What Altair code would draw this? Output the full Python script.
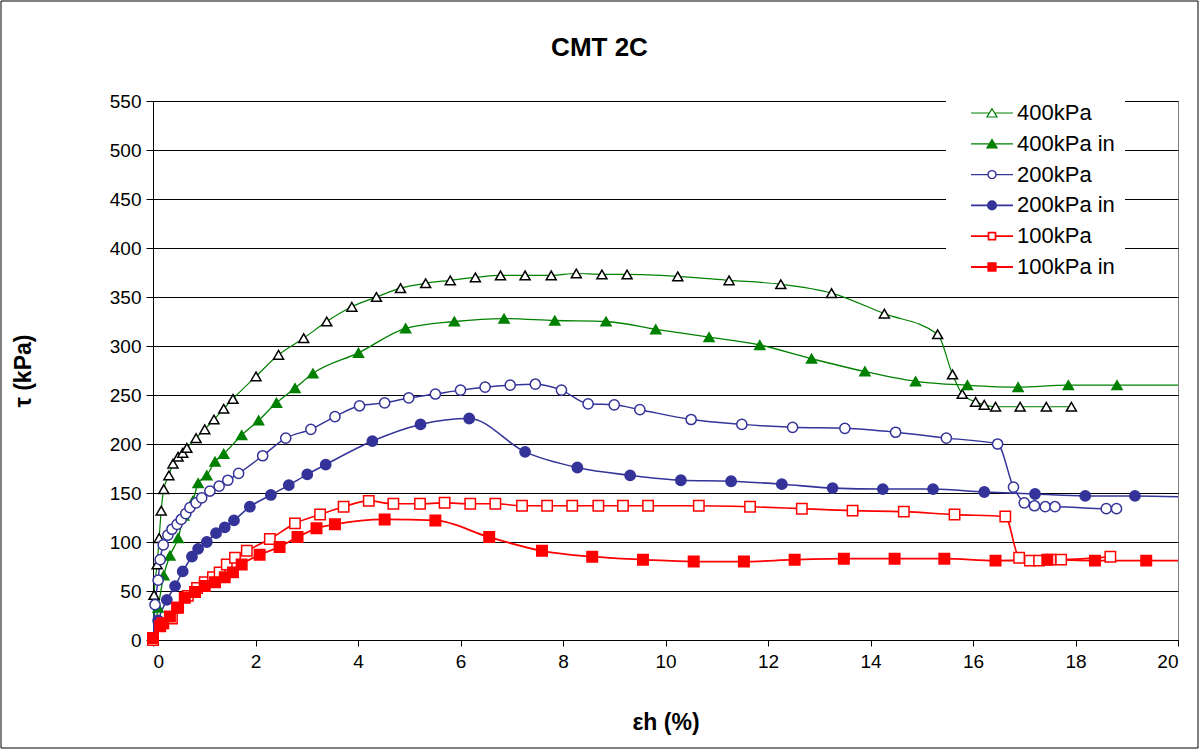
import altair as alt
import pandas as pd

SERIES = ["400kPa", "400kPa in", "200kPa", "200kPa in", "100kPa", "100kPa in"]

x_400 = [0, 0.02, 0.08, 0.12, 0.16, 0.21, 0.31, 0.39, 0.49, 0.58, 0.66, 0.84, 1.01, 1.19, 1.38, 1.56,
         2.01, 2.45, 2.94, 3.39, 3.88, 4.36, 4.83, 5.32, 5.80, 6.29, 6.78, 7.26, 7.77, 8.26, 8.76, 9.25,
         10.24, 11.24, 12.25, 13.24, 14.27, 15.31, 15.60, 15.79, 16.05, 16.22, 16.44, 16.92, 17.43, 17.92]
y_400 = [0, 46, 77, 104, 132, 154, 168, 180, 187, 191, 196, 206, 215, 225, 236, 246,
         269, 291, 308, 325, 340, 350, 359, 364, 367, 370, 372, 372, 372, 374, 373, 373,
         371, 367, 363, 354, 333, 312, 271, 251, 243, 240, 238, 238, 238, 238]

x_400in = [0, 0.1, 0.21, 0.33, 0.49, 0.60, 0.78, 0.88, 1.05, 1.21, 1.38, 1.73, 2.06, 2.41, 2.77, 3.12,
           4.01, 4.93, 5.88, 6.85, 7.84, 8.84, 9.81, 10.85, 11.84, 12.85, 13.89, 14.88, 15.89, 16.88,
           17.86, 18.81, 20.8]
y_400in = [0, 33, 66, 86, 104, 127, 142, 160, 168, 182, 190, 209, 224, 242, 257, 272,
           293, 318, 325, 328, 326, 325, 317, 309, 301, 287, 274, 264, 260, 258,
           260, 260, 260]

x_200 = [0, 0.04, 0.10, 0.14, 0.20, 0.29, 0.37, 0.47, 0.55, 0.64, 0.72, 0.84, 0.95, 1.11, 1.29, 1.46,
         1.67, 2.14, 2.59, 3.08, 3.55, 4.03, 4.52, 4.99, 5.51, 6.00, 6.48, 6.97, 7.46, 7.97, 8.49, 9.0,
         9.5, 10.5, 11.49, 12.48, 13.5, 14.49, 15.48, 16.48, 16.79, 17.0, 17.2, 17.41, 17.6, 18.6, 18.8]
y_200 = [0, 36, 61, 82, 97, 107, 113, 118, 123, 129, 135, 140, 145, 152, 157, 163,
         170, 188, 206, 215, 228, 239, 242, 247, 251, 255, 258, 260, 261, 255, 241, 240,
         235, 225, 220, 217, 216, 212, 206, 200, 156, 140, 137, 136, 136, 134, 134]

x_200in = [0, 0.1, 0.27, 0.43, 0.58, 0.76, 0.88, 1.05, 1.23, 1.40, 1.58, 1.89, 2.30, 2.65, 3.01, 3.37,
           4.28, 5.22, 6.17, 7.26, 8.28, 9.31, 10.3, 11.28, 12.27, 13.26, 14.24, 15.22, 16.22, 17.21,
           18.19, 19.16, 20.15]
y_200in = [0, 20, 41, 55, 70, 85, 93, 100, 109, 115, 122, 136, 148, 158, 169, 179,
           203, 220, 226, 192, 176, 168, 163, 162, 159, 155, 154, 154, 151, 149,
           147, 147, 146]

x_100 = [0, 0.18, 0.37, 0.49, 0.68, 0.86, 1.01, 1.17, 1.30, 1.44, 1.60, 1.83, 2.28, 2.77, 3.26, 3.72,
         4.21, 4.69, 5.21, 5.69, 6.19, 6.68, 7.2, 7.69, 8.18, 8.69, 9.17, 9.66, 10.65, 11.65, 12.66,
         13.65, 14.65, 15.64, 16.63, 16.9, 17.11, 17.29, 17.51, 17.72, 18.68]
y_100 = [0, 17, 22, 33, 45, 53, 59, 64, 69, 77, 84, 91, 103, 119, 128, 136,
         142, 139, 139, 140, 139, 139, 137, 137, 137, 137, 137, 137, 137, 136, 134,
         132, 131, 128, 126, 84, 81, 81, 82, 82, 85]

x_100in = [0, 0.14, 0.2, 0.33, 0.47, 0.62, 0.82, 1.01, 1.21, 1.40, 1.56, 1.73, 2.08, 2.47, 2.82, 3.19,
           3.55, 4.52, 5.51, 6.56, 7.59, 8.57, 9.56, 10.55, 11.53, 12.52, 13.48, 14.47, 15.44, 16.44,
           17.45, 18.38, 19.38, 20.4]
y_100in = [2, 14, 17, 24, 33, 43, 49, 55, 59, 64, 69, 77, 87, 95, 105, 114,
           118, 123, 122, 105, 91, 85, 82, 80, 80, 82, 83, 83, 83, 81,
           82, 81, 81, 81]

X_TICKS = list(range(0, 21, 2))
Y_TICKS = list(range(0, 551, 50))

XS = [x_400, x_400in, x_200, x_200in, x_100, x_100in]
YS = [y_400, y_400in, y_200, y_200in, y_100, y_100in]

rows = []
for name, xs, ys in zip(SERIES, XS, YS):
    for xv, yv in zip(xs, ys):
        rows.append({"series": name, "eh": xv, "tau": yv})
df = pd.DataFrame(rows)

LINE_COLORS = ["#008000", "#008000", "#333399", "#333399", "#FF0000", "#FF0000"]
LINE_WIDTHS = [1.2, 1.8, 1.4, 1.8, 1.5, 1.5]
MARK_STROKE = ["#000000", "#008000", "#333399", "#333399", "#FF0000", "#FF0000"]
MARK_FILL = ["#FFFFFF", "#008000", "#FFFFFF", "#333399", "#FFFFFF", "#FF0000"]
MARK_SHAPE = ["triangle-up", "triangle-up", "circle", "circle", "square", "square"]
MARK_SIZE = [100, 110, 72, 80, 56, 64]


# ---- legend glyphs (line segment + marker), in unit symbol coordinates ----
def circle(r):
    return f"M{r},0A{r},{r} 0 1,1 {-r},0A{r},{r} 0 1,1 {r},0Z"


def square(h):
    return f"M{-h},{-h}H{h}V{h}H{-h}Z"


def triangle(k):
    cy = 0.25
    return (f"M0,{cy + k * -1.1:.3f}L{k * 1.0:.3f},{cy + k * 0.55:.3f}"
            f"L{-k * 1.0:.3f},{cy + k * 0.55:.3f}Z")


FULL_LINE = "M-4.2,0H4.2"
GLYPHS = [
    "M-4.2,0H-0.52M0.52,0H4.2" + triangle(1.0),
    FULL_LINE + triangle(1.0) + triangle(0.6) + triangle(0.25),
    "M-4.2,0H-0.8M0.8,0H4.2" + circle(0.8),
    FULL_LINE + circle(0.85) + circle(0.6) + circle(0.35) + circle(0.1),
    "M-4.2,0H-0.7M0.7,0H4.2" + square(0.7),
    FULL_LINE + square(0.75) + square(0.5) + square(0.25) + square(0.05),
]


def by_series(values):
    expr = "'" + values[-1] + "'"
    for s, v in reversed(list(zip(SERIES[:-1], values[:-1]))):
        expr = "datum.value === '" + s + "' ? '" + v + "' : (" + expr + ")"
    return expr


shape_expr = by_series(GLYPHS)

FONT = "Liberation Sans"

x_enc = alt.X("eh:Q", scale=alt.Scale(domain=[0, 20], nice=False, zero=False),
              axis=alt.Axis(values=X_TICKS, title="εh (%)", grid=False, tickSize=6,
                            labelPadding=6, titlePadding=40))
y_enc = alt.Y("tau:Q", scale=alt.Scale(domain=[0, 550], nice=False),
              axis=alt.Axis(values=Y_TICKS, title="τ (kPa)", grid=True, tickSize=7,
                            labelPadding=5, titlePadding=74))

leg = alt.Legend(orient="none", legendX=793, legendY=-9, title=None, padding=10,
                 labelFontSize=22, labelFont=FONT, labelColor="black", rowPadding=8.8,
                 symbolOffset=25, symbolSize=100, symbolStrokeWidth=1.5,
                 symbolType={"expr": shape_expr},
                 labelOffset=14, fillColor="white")

lines = alt.Chart(df).mark_line(interpolate="monotone", clip=True).encode(
    x=x_enc, y=y_enc,
    stroke=alt.Stroke("series:N", scale=alt.Scale(domain=SERIES, range=LINE_COLORS), legend=leg),
    strokeWidth=alt.StrokeWidth("series:N", scale=alt.Scale(domain=SERIES, range=LINE_WIDTHS), legend=None),
)

points = alt.Chart(df).transform_filter("datum.eh <= 20").mark_point(
    filled=True, opacity=1, strokeWidth=1.5).encode(
    x=x_enc, y=y_enc,
    shape=alt.Shape("series:N", scale=alt.Scale(domain=SERIES, range=MARK_SHAPE), legend=None),
    fill=alt.Fill("series:N", scale=alt.Scale(domain=SERIES, range=MARK_FILL), legend=None),
    stroke=alt.Stroke("series:N", scale=alt.Scale(domain=SERIES, range=MARK_STROKE), legend=None),
    size=alt.Size("series:N", scale=alt.Scale(domain=SERIES, range=MARK_SIZE), legend=None),
)

frame = alt.Chart(pd.DataFrame({"k": [0]})).mark_rect(
    fill="transparent", stroke="black", strokeWidth=1).encode(
    x=alt.value(-152), x2=alt.value(1045), y=alt.value(-100), y2=alt.value(647))

chart = alt.layer(frame, lines, points).resolve_scale(
    stroke="independent", shape="independent", fill="independent",
    size="independent", strokeWidth="independent"
).properties(
    width=1025, height=539,
    title=alt.TitleParams("CMT 2C", fontSize=26, fontWeight="bold", font=FONT,
                          anchor="middle", frame="bounds", offset=-60, color="black"),
    autosize=alt.AutoSizeParams(type="none"),
    padding={"left": 153, "top": 101, "right": 23, "bottom": 111},
    background="white",
).configure_view(
    stroke="#808080", strokeWidth=1
).configure_axis(
    labelFont=FONT, titleFont=FONT, labelFontSize=19, titleFontSize=23,
    titleFontWeight="bold", labelColor="black", titleColor="black",
    domainColor="black", tickColor="black", gridColor="black", gridWidth=1,
    domainWidth=1, tickWidth=1, gridOpacity=1
)

chart.save("out.html", embed_options={"renderer": "svg", "actions": False})
